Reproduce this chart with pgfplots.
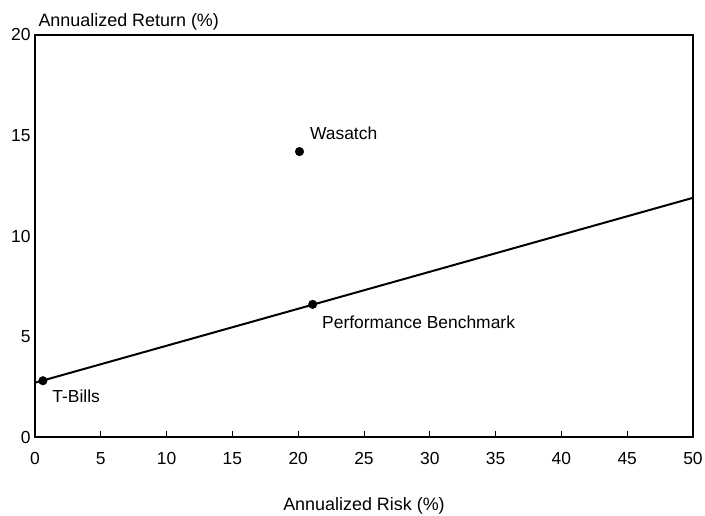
\documentclass[border=0pt]{standalone}
\usepackage{pgfplots}
\pgfplotsset{compat=1.18}
\usepackage{fontspec}
\setmainfont{Liberation Sans}
\begin{document}
\begin{tikzpicture}[x=1bp,y=1bp]
\begin{axis}[
  at={(35bp,79bp)}, anchor=south west,
  scale only axis, width=658bp, height=402bp,
  xmin=0, xmax=50, ymin=0, ymax=20,
  xtick={0,5,...,50}, ytick={0,5,...,20},
  /pgf/number format/assume math mode=true,
  tick label style={font=\fontsize{17.5}{20}\selectfont},
  axis line style={line width=1.2bp},
  xtick pos=bottom, ytick pos=left,
  tick align=inside,
  major tick length=6bp,
  xtick style={line width=1bp, black},
  ytick style={draw=none},
  xticklabel style={yshift=-12bp},
  yticklabel style={xshift=-1bp},
  clip=false,
]
\addplot[black, line width=2bp] coordinates {(0,2.7) (50,11.9)};
\addplot[only marks, mark=*, mark size=4.3bp, black] coordinates {(0.6,2.8) (21.1,6.6) (20.1,14.2)};
\node[anchor=west, font=\fontsize{17.5}{20}\selectfont] at (axis cs:20.1,14.2) [xshift=7bp, yshift=18bp] {Wasatch};
\node[anchor=west, font=\fontsize{17.5}{20}\selectfont] at (axis cs:21.1,6.6) [xshift=6bp, yshift=-18bp] {Performance Benchmark};
\node[anchor=west, font=\fontsize{17.5}{20}\selectfont] at (axis cs:0.6,2.8) [xshift=6bp, yshift=-16bp] {T-Bills};
\node[anchor=base west, font=\fontsize{18}{20}\selectfont] at (rel axis cs:0,1) [xshift=0bp, yshift=8bp] {Annualized Return (\%)};
\node[anchor=base, font=\fontsize{18}{20}\selectfont] at (rel axis cs:0.5,0) [yshift=-73bp] {Annualized Risk (\%)};
\end{axis}
\pgfresetboundingbox
\useasboundingbox (0,0) rectangle (705bp,516bp);
\end{tikzpicture}
\end{document}
